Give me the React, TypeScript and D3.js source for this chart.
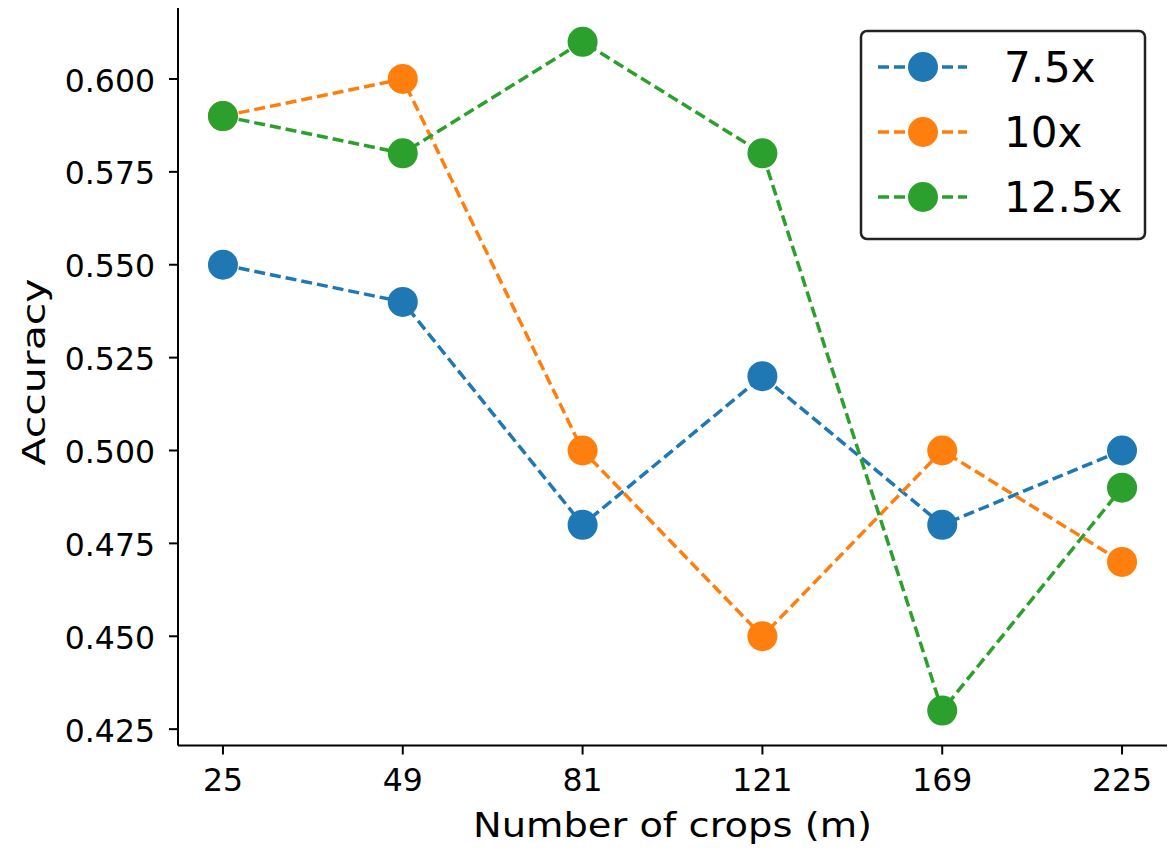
import React, { useEffect, useRef } from 'react';
import * as d3 from 'd3';

const crops = ['25', '49', '81', '121', '169', '225'];
const seriesNames = ['7.5x', '10x', '12.5x'];
const acc75 = [0.55, 0.54, 0.48, 0.52, 0.48, 0.5];
const acc10 = [0.59, 0.6, 0.5, 0.45, 0.5, 0.47];
const acc125 = [0.59, 0.58, 0.61, 0.58, 0.43, 0.49];
const yTicks = [0.425, 0.45, 0.475, 0.5, 0.525, 0.55, 0.575, 0.6];
const colors = ['#1f77b4', '#ff7f0e', '#2ca02c'];

const WIDTH = 1172;
const HEIGHT = 850;
const FONT = '"DejaVu Sans", sans-serif';

const App: React.FC = () => {
  const svgRef = useRef<SVGSVGElement>(null);

  useEffect(() => {
    const svg = d3.select(svgRef.current);
    svg.selectAll('*').remove();

    const left = 178;
    const right = 1167;
    const top = 8;
    const bottom = 745.5;

    const series = [acc75, acc10, acc125];

    // categorical x with matplotlib-like 5% margins
    const x = d3.scaleLinear()
      .domain([-0.25, crops.length - 1 + 0.25])
      .range([left, right]);
    const y = d3.scaleLinear()
      .domain([0.4206, 0.6191])
      .range([bottom, top]);

    // spines
    svg.append('line')
      .attr('x1', left).attr('x2', left)
      .attr('y1', top).attr('y2', bottom)
      .attr('stroke', '#000').attr('stroke-width', 2);
    svg.append('line')
      .attr('x1', left).attr('x2', right)
      .attr('y1', bottom).attr('y2', bottom)
      .attr('stroke', '#000').attr('stroke-width', 2);

    // y ticks
    const yt = svg.append('g');
    yTicks.forEach(t => {
      yt.append('line')
        .attr('x1', left - 9).attr('x2', left)
        .attr('y1', y(t)).attr('y2', y(t))
        .attr('stroke', '#000').attr('stroke-width', 2);
      yt.append('text')
        .attr('x', left - 23)
        .attr('y', y(t))
        .attr('dy', '0.4em')
        .attr('text-anchor', 'end')
        .attr('font-family', FONT)
        .attr('font-size', 31.5)
        .attr('fill', '#000')
        .text(d3.format('.3f')(t));
    });

    // x ticks
    const xt = svg.append('g');
    crops.forEach((c, i) => {
      xt.append('line')
        .attr('x1', x(i)).attr('x2', x(i))
        .attr('y1', bottom).attr('y2', bottom + 9)
        .attr('stroke', '#000').attr('stroke-width', 2);
      xt.append('text')
        .attr('x', x(i))
        .attr('y', bottom + 45)
        .attr('text-anchor', 'middle')
        .attr('font-family', FONT)
        .attr('font-size', 31.5)
        .attr('fill', '#000')
        .text(c);
    });

    // axis labels
    svg.append('text')
      .attr('x', (left + right) / 2)
      .attr('y', 837)
      .attr('text-anchor', 'middle')
      .attr('font-family', FONT)
      .attr('font-size', 34)
      .attr('textLength', 399)
      .attr('lengthAdjust', 'spacingAndGlyphs')
      .attr('fill', '#000')
      .text('Number of crops (m)');
    svg.append('text')
      .attr('transform', `translate(45,372) rotate(-90)`)
      .attr('text-anchor', 'middle')
      .attr('font-family', FONT)
      .attr('font-size', 32)
      .attr('textLength', 187)
      .attr('lengthAdjust', 'spacingAndGlyphs')
      .attr('fill', '#000')
      .text('Accuracy');

    // lines + markers
    const line = d3.line<number>()
      .x((_, i) => x(i))
      .y(d => y(d));

    series.forEach((vals, si) => {
      const g = svg.append('g');
      g.append('path')
        .datum(vals)
        .attr('d', line)
        .attr('fill', 'none')
        .attr('stroke', colors[si])
        .attr('stroke-width', 3.5)
        .attr('stroke-dasharray', '11,5');
      g.selectAll('circle')
        .data(vals)
        .enter()
        .append('circle')
        .attr('cx', (_, i) => x(i))
        .attr('cy', d => y(d))
        .attr('r', 15)
        .attr('fill', colors[si]);
    });

    // legend
    const lg = svg.append('g');
    lg.append('rect')
      .attr('x', 861).attr('y', 31)
      .attr('width', 284).attr('height', 208)
      .attr('rx', 6)
      .attr('fill', '#fff')
      .attr('stroke', '#222')
      .attr('stroke-width', 2.5);
    seriesNames.forEach((name, i) => {
      const ly = 67 + i * 65;
      lg.append('line')
        .attr('x1', 878).attr('x2', 967)
        .attr('y1', ly).attr('y2', ly)
        .attr('stroke', colors[i])
        .attr('stroke-width', 3.5)
        .attr('stroke-dasharray', '11,5');
      lg.append('circle')
        .attr('cx', 923).attr('cy', ly)
        .attr('r', 15)
        .attr('fill', colors[i]);
      lg.append('text')
        .attr('x', 1004)
        .attr('y', ly)
        .attr('dy', '0.36em')
        .attr('font-family', FONT)
        .attr('font-size', 42)
        .attr('fill', '#000')
        .text(name);
    });
  }, []);

  return (
    <svg
      ref={svgRef}
      width={WIDTH}
      height={HEIGHT}
      style={{ position: 'absolute', left: 0, top: 0, background: '#fff' }}
    />
  );
};

export default App;
